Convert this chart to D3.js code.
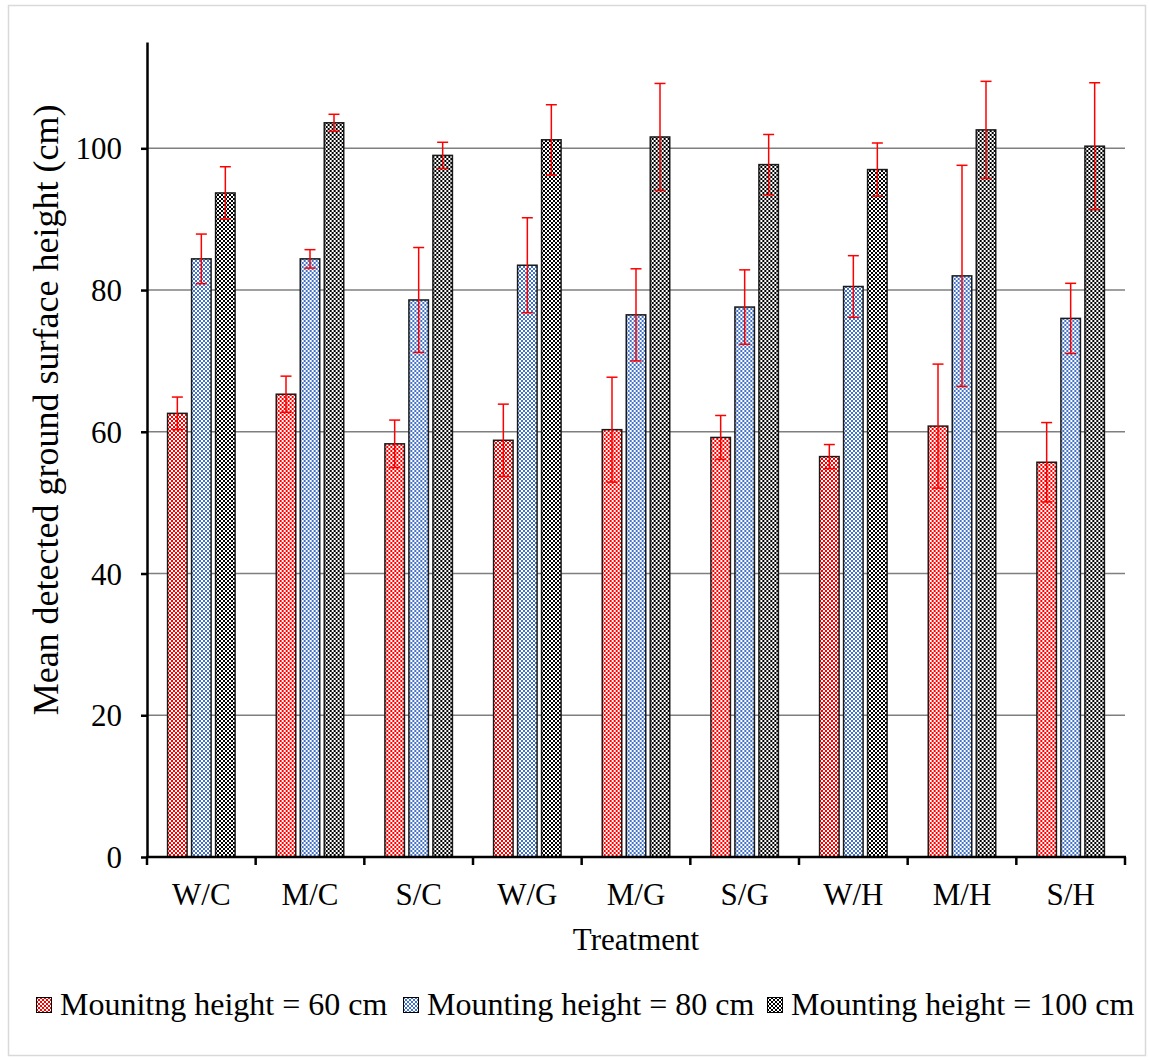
<!DOCTYPE html>
<html>
<head>
<meta charset="utf-8">
<script src="https://cdn.jsdelivr.net/npm/d3@7"></script>
<style>
  html, body { margin: 0; padding: 0; background: #fff; }
  svg text { font-family: "Liberation Serif", "Times New Roman", serif !important; fill: #000; }
</style>
</head>
<body>
<svg id="chart" width="1149" height="1060"></svg>
<script>
// Treatments on the x axis
const categories = ["W/C", "M/C", "S/C", "W/G", "M/G", "S/G", "W/H", "M/H", "S/H"];

// Mean detected ground surface height (cm) per mounting height
const mean60  = [62.6, 65.3, 58.3, 58.8, 60.3, 59.2, 56.5, 60.8, 55.7];
const mean80  = [84.4, 84.4, 78.6, 83.5, 76.5, 77.6, 80.5, 82.0, 76.0];
const mean100 = [93.7, 103.6, 99.0, 101.2, 101.6, 97.7, 97.0, 102.6, 100.3];

// Error bar half-lengths (cm)
const err60  = [2.3, 2.55, 3.35, 5.1, 7.4, 3.1, 1.7, 8.75, 5.6];
const err80  = [3.5, 1.3, 7.4, 6.7, 6.5, 5.25, 4.35, 15.6, 4.95];
const err100 = [3.7, 1.2, 1.85, 4.95, 7.55, 4.25, 3.75, 6.85, 8.95];

const seriesNames = ["Mounitng height = 60 cm", "Mounting height = 80 cm", "Mounting height = 100 cm"];
const seriesColors = ["#ff0000", "#4472c4", "#000000"];
const yTicks = [0, 20, 40, 60, 80, 100];

const series = [
  { key: "s60",  name: seriesNames[0], color: seriesColors[0], values: mean60,  errors: err60 },
  { key: "s80",  name: seriesNames[1], color: seriesColors[1], values: mean80,  errors: err80 },
  { key: "s100", name: seriesNames[2], color: seriesColors[2], values: mean100, errors: err100 }
];

const FONT = '"Liberation Serif", "Times New Roman", serif';
const svg = d3.select("#chart");
const W = 1149, H = 1060;
const plot = { left: 147, right: 1125, top: 42, bottom: 857 };

// outer chart frame
svg.append("rect")
  .attr("x", 8.5).attr("y", 5.5)
  .attr("width", W - 12).attr("height", H - 10)
  .attr("fill", "#fff").attr("stroke", "#d9d9d9").attr("stroke-width", 1.5);

// checkerboard fills
const defs = svg.append("defs");
series.forEach(s => {
  const p = defs.append("pattern")
    .attr("id", "pat-" + s.key)
    .attr("patternUnits", "userSpaceOnUse")
    .attr("width", 4).attr("height", 4);
  p.append("rect").attr("width", 4).attr("height", 4).attr("fill", "#fff");
  p.append("rect").attr("x", 0).attr("y", 0).attr("width", 2).attr("height", 2).attr("fill", s.color);
  p.append("rect").attr("x", 2).attr("y", 2).attr("width", 2).attr("height", 2).attr("fill", s.color);
});

const y = d3.scaleLinear().domain([0, 115]).range([plot.bottom, plot.top]);
const x = d3.scaleBand().domain(categories).range([plot.left, plot.right]).padding(0);
const groupW = 67.5;
const xs = d3.scaleBand()
  .domain(series.map(s => s.key))
  .range([(x.bandwidth() - groupW) / 2, (x.bandwidth() + groupW) / 2])
  .paddingInner(0.1875).paddingOuter(0);

// horizontal gridlines
svg.append("g").selectAll("line")
  .data(yTicks.filter(t => t > 0))
  .join("line")
  .attr("x1", plot.left).attr("x2", plot.right)
  .attr("y1", d => y(d)).attr("y2", d => y(d))
  .attr("stroke", "#7f7f7f").attr("stroke-width", 1.5);

// bars
const groups = svg.append("g").selectAll("g")
  .data(categories)
  .join("g")
  .attr("transform", d => `translate(${x(d)},0)`);

series.forEach(s => {
  groups.append("rect")
    .attr("x", xs(s.key))
    .attr("width", xs.bandwidth())
    .attr("y", (d, i) => y(s.values[i]))
    .attr("height", (d, i) => y(0) - y(s.values[i]))
    .attr("fill", `url(#pat-${s.key})`)
    .attr("stroke", "#1a1a1a").attr("stroke-width", 1.5);
});

// error bars
const cap = 5.5;
series.forEach(s => {
  const eb = groups.append("g")
    .attr("stroke", "#ff0000").attr("stroke-width", 1.5).attr("fill", "none");
  const cx = xs(s.key) + xs.bandwidth() / 2;
  eb.append("line")
    .attr("x1", cx).attr("x2", cx)
    .attr("y1", (d, i) => y(s.values[i] + s.errors[i]))
    .attr("y2", (d, i) => y(s.values[i] - s.errors[i]));
  eb.append("line")
    .attr("x1", cx - cap).attr("x2", cx + cap)
    .attr("y1", (d, i) => y(s.values[i] + s.errors[i]))
    .attr("y2", (d, i) => y(s.values[i] + s.errors[i]));
  eb.append("line")
    .attr("x1", cx - cap).attr("x2", cx + cap)
    .attr("y1", (d, i) => y(s.values[i] - s.errors[i]))
    .attr("y2", (d, i) => y(s.values[i] - s.errors[i]));
});

// y axis
const yAxis = svg.append("g")
  .attr("transform", `translate(${plot.left},0)`)
  .call(d3.axisLeft(y).tickValues(yTicks).tickSize(6).tickSizeOuter(0).tickPadding(19));
yAxis.attr("font-family", FONT).attr("font-size", 31);
yAxis.select(".domain").attr("stroke", "#000").attr("stroke-width", 2.5);
yAxis.selectAll(".tick line").attr("stroke", "#000").attr("stroke-width", 2.5);
yAxis.selectAll(".tick text")
  .style("font-family", FONT)
  .style("font-size", "31px").attr("dy", "0.34em");

// x axis: baseline, boundary ticks and centred category labels
const xAxis = svg.append("g");
xAxis.append("line")
  .attr("x1", plot.left - 1).attr("x2", plot.right + 1)
  .attr("y1", y(0)).attr("y2", y(0))
  .attr("stroke", "#000").attr("stroke-width", 2.5);
const bounds = categories.map(c => x(c)).concat([x.range()[1]]);
xAxis.selectAll("line.bt")
  .data(bounds)
  .join("line")
  .attr("class", "bt")
  .attr("x1", d => d).attr("x2", d => d)
  .attr("y1", y(0)).attr("y2", y(0) + 8)
  .attr("stroke", "#000").attr("stroke-width", 2.5);
xAxis.selectAll("text")
  .data(categories)
  .join("text")
  .attr("x", d => x(d) + x.bandwidth() / 2)
  .attr("y", 905)
  .attr("text-anchor", "middle")
  .style("font-size", "31px")
  .text(d => d);

// axis titles
svg.append("text")
  .attr("x", (plot.left + plot.right) / 2)
  .attr("y", 950)
  .attr("text-anchor", "middle")
  .style("font-size", "31px")
  .text("Treatment");

svg.append("text")
  .attr("transform", "translate(58,410) rotate(-90)")
  .attr("text-anchor", "middle")
  .style("font-size", "36px")
  .text("Mean detected ground surface height (cm)");

// legend
const legendX = [36, 403, 767];
const legend = svg.append("g").selectAll("g")
  .data(series)
  .join("g")
  .attr("transform", (d, i) => `translate(${legendX[i]},997)`);
legend.append("rect")
  .attr("x", 0.5).attr("y", 0.5)
  .attr("width", 15).attr("height", 15)
  .attr("fill", d => `url(#pat-${d.key})`)
  .attr("stroke", "#000").attr("stroke-width", 1);
legend.append("text")
  .attr("x", 24).attr("y", 18)
  .style("font-size", "32px")
  .text(d => d.name);
</script>
</body>
</html>
